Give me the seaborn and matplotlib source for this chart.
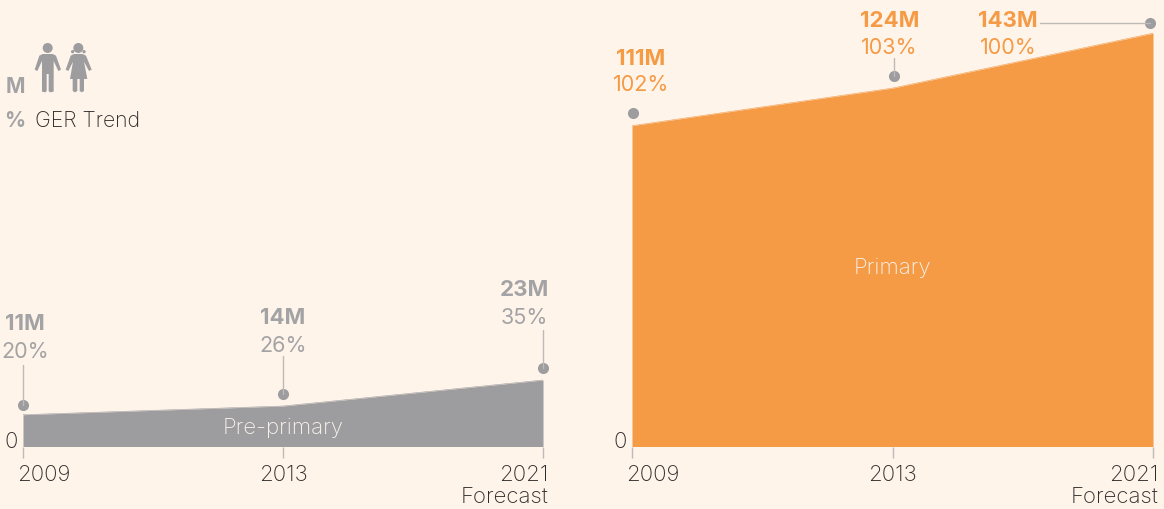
import matplotlib
matplotlib.use("Agg")
import matplotlib.pyplot as plt
import seaborn as sns
import pandas as pd
from matplotlib.patches import Polygon, Circle
from matplotlib.transforms import Affine2D, ScaledTranslation

years = ["2009", "2013", "2021"]
pre_primary = [11, 14, 23]
primary = [111, 124, 143]
pre_ger = ["20%", "26%", "35%"]
primary_ger = ["102%", "103%", "100%"]
year_labels = ["2009", "2013", "2021\nForecast"]

BG = "#FFF4EA"
GREY = "#9D9C9E"
GREY_TXT = "#A3A2A4"
ORANGE = "#F59A45"
RULE = "#BDBAB7"
DARK = "#2E2C2B"

sns.set_theme(style="white")
plt.rcParams["font.family"] = ["Inter", "DejaVu Sans"]

W, H = 1164, 510
fig = plt.figure(figsize=(W / 100, H / 100), dpi=100, facecolor=BG)
PX = 2.89  # pixels per million, same on both panels
BASE = 447.5
SIZE = 16


def shift(dx, dy):
    return ScaledTranslation(dx / 100, dy / 100, fig.dpi_scale_trans)


def panel(left, right, years, vals, color, name, name_y):
    ax = fig.add_axes([left / W, (H - BASE) / H, (right - left) / W, BASE / H])
    ax.set_facecolor("none")
    df = pd.DataFrame({"year": years, "val": vals})
    sns.lineplot(data=df, x="year", y="val", color=color, lw=0.4, ax=ax)
    ax.fill_between(df["year"], df["val"], 0, color=color, lw=0)
    ax.set_xlim(0, 2)
    ax.set_ylim(0, BASE / PX)
    ax.set_xlabel("")
    ax.set_ylabel("")
    sns.despine(ax=ax, left=True, bottom=True, top=True, right=True)
    ax.set_xticks([0, 1, 2])
    ax.set_xticklabels(year_labels, fontsize=SIZE, color=DARK, fontweight="light", linespacing=1.12)
    ax.tick_params(axis="x", bottom=True, length=8, width=1, color=RULE, pad=4.5)
    ax.set_yticks([0])
    ax.set_yticklabels(["0"], fontsize=SIZE, color=DARK, fontweight="light")
    ax.tick_params(axis="y", left=False, length=0, pad=3.5)
    lab = ax.get_yticklabels()[0]
    lab.set_transform(lab.get_transform() + shift(0, 7))
    tl = ax.get_xticklabels()
    tl[0].set_transform(tl[0].get_transform() + shift(21, 0))
    tl[2].set_ha("right")
    tl[2].set_multialignment("right")
    tl[2].set_transform(tl[2].get_transform() + shift(5, 0))
    ax.text(1, name_y, name, ha="center", va="center", color="#F9F2EC", fontsize=SIZE,
            fontweight="light", transform=ax.get_xaxis_transform())
    return ax


def callout(ax, i, val, top, pct, color, dx, dy1, dy2):
    ax.annotate(top, (i, val), xytext=(dx, dy1), textcoords="offset pixels", ha="center", va="center",
                color=color, fontsize=SIZE, fontweight="bold", annotation_clip=False)
    ax.annotate(pct, (i, val), xytext=(dx, dy2), textcoords="offset pixels", ha="center", va="center",
                color=color, fontsize=SIZE - 0.5, fontweight="normal", annotation_clip=False)


def dot(ax, i, val, dx, dy, line=None):
    tr = ax.transData + shift(dx, dy)
    ax.plot([i], [val], "o", ms=8, color=GREY, mec="none", transform=tr, clip_on=False, zorder=5)
    if line is not None:
        p0 = (ax.transData + shift(line[0], line[1])).transform((i, val))
        p1 = (ax.transData + shift(line[2], line[3])).transform((i, val))
        fig.add_artist(plt.Line2D([p0[0] / W, p1[0] / W], [p0[1] / H, p1[1] / H], color=RULE, lw=1,
                                  transform=fig.transFigure))


ax1 = panel(23, 543, years, pre_primary, GREY, "Pre-primary", 19 / BASE)
ax2 = panel(632, 1153, years, primary, ORANGE, "Primary", 179 / BASE)

callout(ax1, 0, pre_primary[0], "11M", pre_ger[0], GREY_TXT, 2, 92, 64)
callout(ax1, 1, pre_primary[1], "14M", pre_ger[1], GREY_TXT, 0, 89, 61)
callout(ax1, 2, pre_primary[2], "23M", pre_ger[2], GREY_TXT, -19, 91, 63)
callout(ax2, 0, primary[0], "111M", primary_ger[0], ORANGE, 9, 68, 42)
callout(ax2, 1, primary[1], "124M", primary_ger[1], ORANGE, -3, 68, 41)
callout(ax2, 2, primary[2], "143M", primary_ger[2], ORANGE, -145, 13, -14)

dot(ax1, 0, pre_primary[0], 0, 10, (0, 10, 0, 50))
dot(ax1, 1, pre_primary[1], 0, 12, (0, 12, 0, 50))
dot(ax1, 2, pre_primary[2], 0, 12, (0, 12, 0, 50))
dot(ax2, 0, primary[0], 1, 13)
dot(ax2, 1, primary[1], 1, 12, (1, 12, 1, 30))
dot(ax2, 2, primary[2], -3, 10, (-3, 10, -113, 10))

# key in the top left corner
fig.text(15 / W, 1 - 87 / H, "M", color=GREY_TXT, fontsize=15, fontweight="bold", ha="center", va="center")
fig.text(15 / W, 1 - 121 / H, "%", color=GREY_TXT, fontsize=15, fontweight="bold", ha="center", va="center")
fig.text(35 / W, 1 - 121 / H, "GER Trend", color=DARK, fontsize=15.3, fontweight="light", ha="left", va="center")

# icon outlines, in pixels of the zoomed key
key = Affine2D().scale(1 / 3).translate(0, 30).scale(1, -1).translate(0, H)
boy = [(128, 75), (158, 75), (168, 80), (183, 122), (175, 126), (161, 96), (161, 188), (150, 190), (146, 186),
       (146, 135), (140, 135), (140, 186), (136, 190), (126, 188), (126, 96), (112, 126), (104, 122), (118, 80)]
girl = [(222, 75), (248, 75), (258, 80), (275, 122), (267, 126), (252, 98), (262, 150), (252, 150), (252, 186),
        (245, 190), (239, 186), (239, 150), (232, 150), (232, 186), (225, 190), (218, 186), (218, 150), (210, 150),
        (219, 98), (205, 126), (197, 122), (212, 80)]
for pts in (boy, girl):
    fig.add_artist(Polygon(pts, closed=True, fc=GREY, ec="none", transform=key))
fig.add_artist(Circle((143, 57), 15, fc=GREY, ec="none", transform=key))
fig.add_artist(Circle((235, 57), 15, fc=GREY, ec="none", transform=key))
fig.add_artist(Circle((218, 68), 5, fc=GREY, ec="none", transform=key))
fig.add_artist(Circle((252, 68), 5, fc=GREY, ec="none", transform=key))

fig.savefig("out.png", dpi=100, facecolor=BG)
